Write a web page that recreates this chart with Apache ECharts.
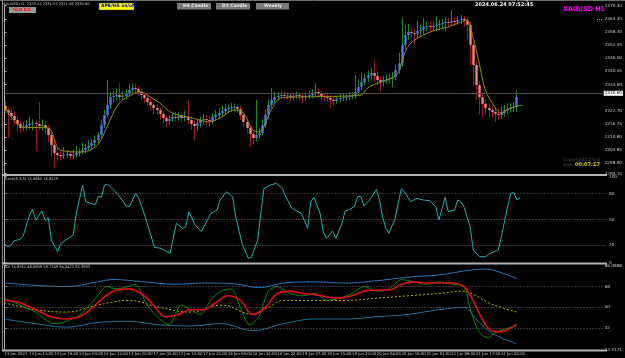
<!DOCTYPE html>
<html><head><meta charset="utf-8">
<script src="https://cdn.jsdelivr.net/npm/echarts@6/dist/echarts.min.js"></script>
<style>html,body{margin:0;padding:0;background:#000;overflow:hidden}#c{width:625px;height:358px}</style>
</head><body><div id="c"></div>
<script>
// ---------- DATA ----------
const timeLabels = ["13 Jun 2024","13 Jun 11:00","13 Jun 19:00","14 Jun 04:00","14 Jun 12:00","14 Jun 20:00","17 Jun 05:00","17 Jun 13:00","17 Jun 21:00","18 Jun 06:00","18 Jun 14:00","18 Jun 22:00","19 Jun 07:00","19 Jun 15:00","19 Jun 23:00","20 Jun 08:00","20 Jun 16:00","21 Jun 01:00","21 Jun 09:00","21 Jun 17:00","24 Jun 02:00"];
const haOpen = [2325.0,2323.0,2321.7,2320.3,2318.5,2316.7,2314.9,2315.3,2316.2,2316.7,2317.1,2316.7,2315.8,2316.2,2314.9,2311.7,2307.2,2303.5,2302.6,2302.2,2302.6,2303.1,2302.2,2302.6,2303.5,2304.0,2304.9,2305.8,2306.7,2308.1,2309.4,2311.7,2316.2,2320.8,2325.3,2328.9,2329.4,2329.8,2328.9,2329.4,2330.3,2332.1,2333.0,2332.6,2331.2,2329.8,2328.5,2326.7,2325.3,2323.9,2323.0,2321.2,2319.4,2318.0,2318.9,2319.9,2319.5,2320.3,2319.4,2319.9,2318.5,2316.7,2315.8,2317.1,2318.5,2318.9,2318.5,2318.0,2319.9,2320.8,2321.7,2322.6,2323.5,2323.9,2324.2,2324.4,2323.5,2320.8,2317.6,2314.9,2312.2,2310.3,2311.7,2312.6,2316.2,2320.8,2325.3,2327.6,2328.9,2329.4,2329.8,2329.4,2329.6,2328.9,2329.4,2329.8,2329.4,2328.9,2329.4,2329.8,2330.7,2331.2,2330.3,2329.4,2328.9,2328.5,2327.6,2327.1,2328.0,2328.5,2328.9,2329.1,2329.4,2329.6,2331.2,2333.5,2335.7,2337.5,2338.9,2339.8,2338.4,2336.6,2335.7,2336.6,2337.1,2337.5,2338.0,2341.2,2344.3,2352.5,2357.0,2358.4,2357.9,2357.5,2358.8,2359.3,2360.7,2361.1,2360.7,2361.1,2361.6,2362.0,2362.5,2362.9,2362.6,2363.4,2363.0,2363.8,2364.3,2363.6,2361.6,2352.5,2343.4,2334.4,2328.9,2325.8,2323.9,2323.0,2322.1,2321.2,2320.8,2321.7,2323.0,2323.5,2323.9,2324.4];
const haClose = [2323.0,2321.7,2320.3,2318.5,2316.7,2314.9,2315.3,2316.2,2316.7,2317.1,2316.7,2315.8,2316.2,2314.9,2311.7,2307.2,2303.5,2302.6,2302.2,2302.6,2303.1,2302.2,2302.6,2303.5,2304.0,2304.9,2305.8,2306.7,2308.1,2309.4,2311.7,2316.2,2320.8,2325.3,2328.9,2329.4,2329.8,2328.9,2329.4,2330.3,2332.1,2333.0,2332.6,2331.2,2329.8,2328.5,2326.7,2325.3,2323.9,2323.0,2321.2,2319.4,2318.0,2318.9,2319.9,2319.5,2320.3,2319.4,2319.9,2318.5,2316.7,2315.8,2317.1,2318.5,2318.9,2318.5,2318.0,2319.9,2320.8,2321.7,2322.6,2323.5,2323.9,2324.2,2324.4,2323.5,2320.8,2317.6,2314.9,2312.2,2310.3,2311.7,2312.6,2316.2,2320.8,2325.3,2327.6,2328.9,2329.4,2329.8,2329.4,2329.6,2328.9,2329.4,2329.8,2329.4,2328.9,2329.4,2329.8,2330.7,2331.2,2330.3,2329.4,2328.9,2328.5,2327.6,2327.1,2328.0,2328.5,2328.9,2329.1,2329.4,2329.6,2331.2,2333.5,2335.7,2337.5,2338.9,2339.8,2338.4,2336.6,2335.7,2336.6,2337.1,2337.5,2338.0,2341.2,2344.3,2352.5,2357.0,2358.4,2357.9,2357.5,2358.8,2359.3,2360.7,2361.1,2360.7,2361.1,2361.6,2362.0,2362.5,2362.9,2362.6,2363.4,2363.0,2363.8,2364.3,2363.6,2361.6,2352.5,2343.4,2334.4,2328.9,2325.8,2323.9,2323.0,2322.1,2321.2,2320.8,2321.7,2323.0,2323.5,2323.9,2324.4,2328.9];
const barLow = [2321.5,2310.5,2318.4,2316.0,2313.2,2312.8,2313.5,2314.0,2314.6,2313.8,2304.5,2313.9,2313.7,2312.0,2308.5,2302.0,2296.5,2299.8,2300.4,2300.9,2301.2,2300.6,2300.8,2301.5,2302.1,2302.7,2303.4,2304.9,2305.0,2306.3,2307.8,2310.4,2314.9,2319.6,2323.5,2326.4,2327.3,2326.9,2327.5,2327.8,2329.0,2330.4,2330.9,2329.5,2327.6,2326.3,2324.8,2323.1,2321.0,2320.8,2318.6,2316.9,2315.6,2316.4,2317.5,2317.8,2318.2,2317.5,2317.9,2316.4,2314.2,2309.4,2313.6,2315.0,2316.6,2316.2,2315.3,2316.6,2318.0,2319.1,2320.2,2320.9,2321.6,2322.0,2322.4,2321.7,2318.6,2315.0,2312.4,2306.3,2307.6,2308.8,2310.0,2311.4,2314.8,2319.0,2323.6,2326.0,2327.3,2328.0,2327.6,2327.9,2327.0,2327.4,2328.1,2327.5,2326.3,2327.2,2328.0,2328.3,2329.1,2328.6,2327.5,2326.8,2326.6,2323.9,2325.3,2325.8,2326.5,2327.0,2327.2,2327.6,2327.9,2328.3,2329.8,2332.1,2334.2,2335.8,2336.9,2336.0,2334.3,2331.2,2333.8,2334.9,2335.0,2333.4,2336.4,2339.5,2342.8,2350.6,2354.9,2355.6,2352.8,2355.7,2356.6,2357.3,2358.9,2357.8,2359.0,2358.6,2359.4,2360.0,2358.7,2360.4,2360.9,2361.0,2361.5,2361.9,2360.8,2355.0,2343.0,2334.0,2327.6,2320.8,2319.9,2320.5,2319.8,2319.5,2317.6,2318.6,2319.0,2320.1,2321.0,2321.8,2322.0,2322.1];
const barHigh = [2327.2,2324.2,2323.5,2322.4,2319.6,2318.0,2317.4,2318.5,2319.8,2318.9,2318.2,2326.6,2318.9,2318.0,2316.4,2313.8,2309.0,2305.9,2304.6,2306.3,2304.8,2304.0,2305.1,2306.8,2305.6,2308.3,2307.5,2309.6,2310.2,2311.6,2313.0,2318.7,2323.1,2336.6,2331.0,2331.8,2332.7,2335.3,2331.6,2332.4,2335.0,2335.2,2334.8,2333.9,2332.5,2331.0,2329.7,2328.2,2326.4,2325.6,2324.1,2322.5,2320.6,2320.5,2321.4,2322.0,2321.9,2321.6,2322.8,2327.6,2320.1,2318.0,2318.7,2320.2,2320.8,2320.5,2319.9,2321.5,2323.0,2323.8,2325.1,2325.9,2325.5,2326.3,2326.0,2325.6,2324.9,2322.0,2319.0,2316.1,2313.5,2327.6,2315.0,2318.9,2323.2,2328.0,2333.0,2331.2,2331.0,2331.5,2331.3,2331.0,2330.8,2330.7,2331.4,2331.1,2330.6,2331.0,2331.8,2332.5,2335.2,2332.8,2331.6,2330.9,2330.3,2329.8,2329.0,2329.4,2330.2,2330.5,2330.6,2331.2,2331.0,2338.9,2336.9,2340.0,2339.6,2341.0,2342.2,2345.7,2340.1,2338.2,2338.5,2339.0,2339.6,2340.3,2343.5,2349.0,2365.0,2361.5,2362.0,2360.7,2359.9,2363.6,2361.8,2364.8,2363.2,2362.9,2363.0,2365.4,2363.9,2364.2,2364.8,2364.6,2368.4,2365.1,2365.5,2366.1,2365.7,2365.0,2362.8,2354.0,2345.0,2336.0,2331.0,2327.8,2326.0,2325.0,2323.8,2323.5,2324.6,2325.3,2325.9,2326.2,2326.5,2332.1];
// moving average (bar index, price)
const maPoints = [[0,2324.4],[6,2315.3],[14,2314.9],[18,2304.9],[25,2304.0],[30,2307.2],[33,2315.3],[37,2326.2],[42,2330.7],[44,2331.2],[47,2328.9],[50,2326.2],[54,2321.7],[59,2319.9],[63,2318.5],[66,2317.6],[70,2319.9],[74,2323.0],[77,2321.7],[80,2314.0],[82,2313.1],[86,2323.0],[89,2328.5],[95,2328.9],[111,2329.4],[115,2329.8],[117,2333.0],[121,2335.5],[125,2337.5],[127,2340.3],[129,2348.9],[131,2353.4],[135,2357.0],[139,2359.3],[143,2360.7],[147,2362.9],[149,2363.8],[151,2356.1],[153,2344.3],[155,2332.1],[158,2324.4],[160,2321.7],[163,2323.9],[167,2325.3]];
const bidPrice = 2330.60;
const priceTicks = [2294.15,2298.90,2304.85,2310.80,2316.75,2322.70,2334.60,2340.55,2346.50,2352.45,2358.40,2364.35,2370.30];
// Stochastic (bar index, value)
const stochMain = [[0,22],[1,18],[2,20],[3,25],[5,27],[6,31],[8,55],[9,62],[10,49],[12,60],[13,49],[14,52],[15,26],[17,12.6],[18,22],[22,32],[23,57.5],[25,90],[26,70.7],[29,67],[30,76.5],[31,76],[32,90],[33,91],[36,80.5],[39,65.7],[40,65],[42,80.5],[43,74.6],[45,53.3],[48,17.7],[50,16.5],[53,10.7],[55,45.6],[57,39.8],[58,41.6],[59,59],[61,43.6],[62,39.8],[63,36],[66,57],[68,61],[69,72.7],[71,82.3],[73,76.5],[74,53],[76,22.3],[78,4.9],[79,6],[81,26],[83,86],[85,90],[87,92],[89,86],[90,76.5],[92,63],[95,57],[97,39.8],[98,70.7],[99,75.8],[101,57],[102,35.8],[103,28],[105,36.6],[106,28],[108,45.6],[109,60],[110,61],[112,65],[113,76.5],[114,77.3],[115,65.7],[117,73.5],[119,85],[120,72.7],[121,53],[122,40],[123,34],[125,51.4],[127,86],[128,82],[130,70.7],[132,74.6],[134,72.7],[136,71.9],[138,65],[139,49.4],[141,75.8],[142,59],[144,61],[145,72.7],[146,70.7],[147,65],[149,41.6],[150,14.5],[152,6.7],[154,6.7],[155,9.9],[158,14.5],[159,30],[161,65],[162,80.5],[163,81.2],[164,72.7],[165,75.086]];
const stochSignal = [[0,25],[3,20],[6,25],[9,45],[12,55],[14,53],[17,30],[20,18],[23,35],[26,75],[29,72],[32,82],[35,86],[39,72],[42,72],[45,65],[48,35],[51,16],[54,25],[57,40],[60,47],[63,40],[66,48],[69,62],[72,78],[75,62],[78,20],[80,10],[83,55],[86,85],[89,89],[92,73],[95,60],[98,52],[100,65],[103,42],[106,30],[109,50],[112,62],[115,72],[118,75],[121,72],[124,40],[127,70],[130,80],[133,73],[136,72],[139,62],[142,64],[145,66],[148,60],[151,22],[154,8],[157,11],[160,30],[163,72],[165,76.85]];
// TDI (bar index, value)
const tdiUpper = [[0,71],[10,69],[20,68],[30,72],[35,74],[45,72],[55,70],[65,71],[75,70],[82,67],[90,71],[100,72],[110,71],[120,73],[130,76],[140,78],[150,82],[155,83],[160,80],[165,74.86]];
const tdiLower = [[0,40],[10,36],[20,33],[30,37],[40,38],[50,35],[60,34],[70,36],[80,30],[90,36],[100,40],[110,40],[120,42],[130,44],[140,48],[148,50],[152,40],[156,30],[160,24],[165,18.72]];
const tdiBase = [[0,54],[10,48],[20,46],[30,52],[40,56],[50,50],[60,46],[70,52],[80,44],[85,50],[90,56],[100,56],[110,56],[120,58],[130,60],[140,62],[148,64],[152,60],[156,54],[160,50],[165,46.09]];
const tdiPrice = [[0,58],[5,52],[10,46],[14,38],[16,36],[20,38],[25,45],[30,60],[33,68],[36,66],[40,68],[42,70],[46,52],[50,40],[53,35],[57,52],[60,48],[63,44],[67,58],[70,64],[73,66],[76,50],[79,35],[82,42],[85,64],[88,68],[92,62],[96,60],[100,62],[104,56],[108,58],[112,62],[116,68],[120,64],[124,66],[128,74],[132,72],[136,70],[140,72],[144,70],[148,68],[150,50],[152,34],[154,26],[156,24],[158,28],[160,30],[162,32],[165,34.04]];
const tdiSignal = [[0,56],[5,54],[10,48],[15,42],[20,40],[25,43],[30,54],[35,64],[40,66],[44,62],[48,52],[52,42],[56,44],[60,48],[64,48],[68,54],[72,60],[76,56],[80,44],[84,50],[88,62],[92,64],[96,62],[100,61],[104,59],[108,58],[112,60],[116,64],[120,65],[124,65],[128,70],[132,72],[136,71],[140,71],[144,71],[148,68],[151,56],[154,40],[157,30],[160,29],[163,32],[165,35.40]];

// ---------- CHART ----------
const chart = echarts.init(document.getElementById('c'), null, {renderer:'canvas'});
const FONT = 'DejaVu Sans';
const LBL = '#c8c8c8';
const candleData = haOpen.map((o,i)=>[i,o,haClose[i],barLow[i],barHigh[i]]);
function renderCandle(params, api){
  const i=api.value(0),o=api.value(1),c=api.value(2),l=api.value(3),h=api.value(4);
  const pO=api.coord([i,o]), pC=api.coord([i,c]), pL=api.coord([i,l]), pH=api.coord([i,h]);
  const up=c>=o, w=2.4, x=Math.round(pO[0])+0.5;
  const top=Math.min(pO[1],pC[1]), hgt=Math.max(1,Math.abs(pO[1]-pC[1]));
  return {type:'group',children:[
    {type:'line',shape:{x1:x,y1:pL[1],x2:x,y2:pH[1]},style:{stroke:up?'#1a8c1a':'#a01818',lineWidth:1}},
    {type:'rect',shape:{x:x-w/2,y:top,width:w,height:hgt},style:{fill:up?'#4a7ae6':'#f5847a'}}
  ]};
}
const xBase = {type:'value',min:0,max:192.8,interval:8,axisLine:{show:false},axisTick:{show:false},splitLine:{show:false},axisLabel:{show:false}};
const yBase = {type:'value',position:'right',splitLine:{show:false},axisLine:{show:true,lineStyle:{color:'#b4b4b4',width:1}},
  axisTick:{show:true,length:2,lineStyle:{color:'#b4b4b4'}},axisLabel:{color:LBL,fontSize:4.2,fontFamily:FONT,margin:2}};
const lvl = (vals)=>({silent:true,symbol:'none',label:{show:false},lineStyle:{color:'#6a6a6a',type:[1,2],width:1},data:vals.map(v=>({yAxis:v}))});
const option = {
  backgroundColor:'#000', animation:false,
  grid:[
    {left:4.5,width:602.5,top:5.7,height:168},
    {left:4.5,width:602.5,top:176.5,height:86},
    {left:4.5,width:602.5,top:265.5,height:84.5}
  ],
  xAxis:[
    Object.assign({},xBase,{gridIndex:0}),
    Object.assign({},xBase,{gridIndex:1}),
    Object.assign({},xBase,{gridIndex:2,axisLabel:{show:true,color:LBL,fontSize:3.8,fontFamily:FONT,margin:2.5,align:'left',
      showMinLabel:true,hideOverlap:false,
      formatter:(v)=>{const k=Math.round(v/8);return (Math.abs(v-k*8)<0.01&&timeLabels[k])?timeLabels[k]:'';}}})
  ],
  yAxis:[
    Object.assign({},yBase,{gridIndex:0,min:2294.15,max:2370.30,
      axisLabel:Object.assign({},yBase.axisLabel,{customValues:priceTicks,formatter:v=>v.toFixed(2)}),
      axisTick:Object.assign({},yBase.axisTick,{customValues:priceTicks})}),
    Object.assign({},yBase,{gridIndex:1,min:0,max:100,
      axisLabel:Object.assign({},yBase.axisLabel,{customValues:[0,20,50,80,100]}),
      axisTick:Object.assign({},yBase.axisTick,{customValues:[0,20,50,80,100]})}),
    Object.assign({},yBase,{gridIndex:2,min:13.3171,max:86.0888,
      axisLabel:Object.assign({},yBase.axisLabel,{customValues:[13.3171,32,50,68,86.0888],formatter:v=>(Number.isInteger(v)?String(v):v.toFixed(4))}),
      axisTick:Object.assign({},yBase.axisTick,{customValues:[13.3171,32,50,68,86.0888]})})
  ],
  series:[
    {type:'custom',name:'HA',xAxisIndex:0,yAxisIndex:0,renderItem:renderCandle,data:candleData,encode:{x:0,y:[1,2,3,4]},clip:false,z:3},
    {type:'line',name:'MA',xAxisIndex:0,yAxisIndex:0,data:maPoints,showSymbol:false,smooth:0.35,lineStyle:{color:'#8c8c14',width:1},z:4,
      markLine:{silent:true,symbol:'none',lineStyle:{color:'#505050',type:'solid',width:1},
        label:{show:true,position:'end',distance:1,formatter:bidPrice.toFixed(2),color:'#000',backgroundColor:'#ffffff',fontSize:4.2,fontFamily:FONT,padding:[1,1,0,1]},
        data:[{yAxis:bidPrice}]}},
    {type:'line',name:'StochMain',xAxisIndex:1,yAxisIndex:1,data:stochMain,showSymbol:false,lineStyle:{color:'#20b2aa',width:1},z:4,markLine:lvl([20,50,80])},
    {type:'line',name:'StochSignal',xAxisIndex:1,yAxisIndex:1,data:stochSignal,showSymbol:false,smooth:0.3,lineStyle:{color:'#8b0000',width:1,type:[1,2]},z:3},
    {type:'line',name:'TDIUpper',xAxisIndex:2,yAxisIndex:2,data:tdiUpper,showSymbol:false,smooth:0.4,lineStyle:{color:'#1f78c0',width:1},markLine:lvl([32,50,68])},
    {type:'line',name:'TDILower',xAxisIndex:2,yAxisIndex:2,data:tdiLower,showSymbol:false,smooth:0.4,lineStyle:{color:'#1f6f9a',width:1}},
    {type:'line',name:'TDIBase',xAxisIndex:2,yAxisIndex:2,data:tdiBase,showSymbol:false,smooth:0.4,lineStyle:{color:'#b8b800',width:1,type:[2,2]}},
    {type:'line',name:'TDIPrice',xAxisIndex:2,yAxisIndex:2,data:tdiPrice,showSymbol:false,smooth:0.3,lineStyle:{color:'#0a8a0a',width:1},z:4},
    {type:'line',name:'TDISignal',xAxisIndex:2,yAxisIndex:2,data:tdiSignal,showSymbol:false,smooth:0.4,lineStyle:{color:'#e01010',width:1.6},z:5}
  ],
  graphic:[
    {type:'line',shape:{x1:0,y1:0.5,x2:625,y2:0.5},style:{stroke:'#6e6e6e',lineWidth:1},silent:true},
    {type:'line',shape:{x1:2.5,y1:0,x2:2.5,y2:350},style:{stroke:'#8a8a8a',lineWidth:1},silent:true},
    {type:'line',shape:{x1:2,y1:175,x2:607,y2:175},style:{stroke:'#b4b4b4',lineWidth:2},silent:true},
    {type:'line',shape:{x1:2,y1:263.5,x2:607,y2:263.5},style:{stroke:'#b4b4b4',lineWidth:2},silent:true},
    {type:'line',shape:{x1:2,y1:350.5,x2:607,y2:350.5},style:{stroke:'#b4b4b4',lineWidth:2},silent:true},
    {type:'text',left:3,top:2.5,style:{text:'XAUUSD,H1  2323.51 2331.07 2321.06 2330.60',fill:'#c8c8c8',font:'3.6px '+FONT}},
    {type:'rect',shape:{x:9,y:7,width:27,height:6},style:{fill:'#9a9a9a'}},
    {type:'text',left:13,top:7.6,style:{text:'SLR KU',fill:'#ff1010',font:'bold 4.4px '+FONT}},
    {type:'rect',shape:{x:99,y:3,width:35,height:7},style:{fill:'#ffff00',stroke:'#404040',lineWidth:0.5}},
    {type:'text',left:101,top:4.2,style:{text:'APB/HA on/off',fill:'#0000d0',font:'bold 4.4px '+FONT}},
    {type:'rect',shape:{x:177,y:3,width:34,height:6.5},style:{fill:'#7a7a7a'}},
    {type:'text',left:183,top:4,style:{text:'H4 Candle',fill:'#e8e8e8',font:'bold 4.4px '+FONT}},
    {type:'rect',shape:{x:216,y:3,width:34,height:6.5},style:{fill:'#7a7a7a'}},
    {type:'text',left:222,top:4,style:{text:'D1 Candle',fill:'#e8e8e8',font:'bold 4.4px '+FONT}},
    {type:'rect',shape:{x:256,y:3,width:33,height:6.5},style:{fill:'#7a7a7a'}},
    {type:'text',left:264,top:4,style:{text:'Weekly',fill:'#e8e8e8',font:'bold 4.4px '+FONT}},
    {type:'text',left:475,top:2.5,style:{text:'2024.06.24 07:52:45',fill:'#ffffff',font:'bold 5px '+FONT}},
    {type:'text',left:563,top:6.5,style:{text:'XAUUSD H1',fill:'#ff00ff',font:'bold 6.4px '+FONT}},
    {type:'line',shape:{x1:597,y1:19.5,x2:603,y2:19.5},style:{stroke:'#b8b800',lineWidth:1,lineDash:[1,1]},silent:true},
    {type:'polygon',shape:{points:[[525,0],[529,0],[527,2.5]]},style:{fill:'#9a9a9a'}},
    {type:'text',left:563,top:158,style:{text:'Copyright©2016',fill:'#4a4a4a',font:'4.4px '+FONT}},
    {type:'text',left:563,top:163,style:{text:'www.',fill:'#4a4a4a',font:'4px '+FONT}},
    {type:'text',left:575,top:162.5,style:{text:'00:07:17',fill:'#d2d200',font:'bold 5px '+FONT}},
    {type:'text',left:4,top:177.5,style:{text:'Stoch(8,3,3) 75.0860 76.8529',fill:'#c8c8c8',font:'3.6px '+FONT}},
    {type:'text',left:4,top:265.5,style:{text:'TDI 74.8551 46.0899 18.7249 34.0422 35.3993',fill:'#c8c8c8',font:'3.6px '+FONT}}
  ]
};
chart.setOption(option);
</script></body></html>
